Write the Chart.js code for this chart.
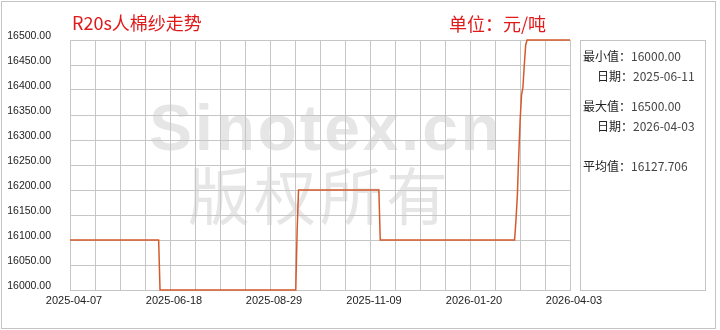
<!DOCTYPE html>
<html>
<head>
<meta charset="utf-8">
<script src="https://cdn.jsdelivr.net/npm/chart.js@4.4.1/dist/chart.umd.min.js"></script>
<style>
  html, body { margin: 0; padding: 0; background: #fff; }
  #wrap { width: 720px; height: 330px; }
</style>
</head>
<body>
<div id="wrap"><canvas id="price-chart" width="720" height="330"></canvas></div>
<script>
// days counted from 2025-04-07, price (yuan/ton) at each change point
const days = [0, 64, 65, 163, 164, 165, 223, 224, 321, 322, 323, 324, 325, 326, 327, 328, 329, 330, 361];
const prices = [16100, 16100, 16000, 16000, 16120, 16200, 16200, 16100, 16100, 16140, 16190, 16270, 16340, 16390, 16405, 16450, 16490, 16500, 16500];
const tickLabels = ["2025-04-07", "2025-06-18", "2025-08-29", "2025-11-09", "2026-01-20", "2026-04-03"];
const lastDay = 361;

const title = "R20s人棉纱走势";
const unit = "单位：元/吨";
const infoLines = [
  ["最小值：", "16000.00", 583, 56],
  ["日期：", "2025-06-11", 597, 76],
  ["最大值：", "16500.00", 583, 106],
  ["日期：", "2026-04-03", 597, 126],
  ["平均值：", "16127.706", 583, 166],
];

const CJK = '"Noto Sans CJK SC", "Liberation Sans", sans-serif';

const decor = {
  id: "decor",
  beforeDraw(chart) {
    const { ctx, chartArea: a } = chart;
    ctx.save();
    // watermark
    ctx.fillStyle = "#e6e6e6";
    ctx.textAlign = "center";
    ctx.textBaseline = "middle";
    ctx.font = 'bold 64px "Liberation Sans", sans-serif';
    ctx.letterSpacing = "3px";
    ctx.fillText("Sinotex.cn", (a.left + a.right) / 2 + 6, 132);
    ctx.font = "62px " + CJK;
    ctx.letterSpacing = "4px";
    ctx.fillText("版权所有", (a.left + a.right) / 2, 196);
    ctx.restore();
  },
  afterDraw(chart) {
    const { ctx } = chart;
    ctx.save();
    ctx.strokeStyle = "#c4c4c4";
    ctx.lineWidth = 1;
    ctx.strokeRect(1.5, 1.5, 714, 327);
    ctx.strokeRect(580.5, 40.5, 125, 250);

    ctx.fillStyle = "#e0191b";
    ctx.textBaseline = "middle";
    ctx.font = "18px " + CJK;
    ctx.fillText(title, 72, 23);
    ctx.fillText(unit, 449, 24);

    ctx.font = "12px " + CJK;
    infoLines.forEach(([label, val, x, y]) => {
      ctx.fillStyle = "#222";
      ctx.fillText(label, x, y);
      const w = ctx.measureText(label).width;
      ctx.fillStyle = "#444";
      ctx.fillText(val, x + w, y);
    });
    ctx.restore();
  },
};

new Chart(document.getElementById("price-chart"), {
  type: "line",
  data: {
    datasets: [
      {
        data: days.map((d, i) => ({ x: d, y: prices[i] })),
        borderColor: "#d55a2b",
        borderWidth: 1.5,
        pointRadius: 0,
        fill: false,
        tension: 0,
        clip: 4,
      },
    ],
  },
  options: {
    responsive: false,
    animation: false,
    devicePixelRatio: 1,
    layout: { padding: { left: 8, right: 150, top: 40, bottom: 0 } },
    plugins: { legend: { display: false }, tooltip: { enabled: false } },
    scales: {
      x: {
        type: "linear",
        min: 0,
        max: lastDay,
        afterBuildTicks(scale) {
          const t = [];
          for (let i = 0; i <= 20; i++) t.push({ value: (i * lastDay) / 20 });
          scale.ticks = t;
        },
        afterFit(scale) { scale.height = 40; },
        grid: { color: "#c6c6c6", drawTicks: false },
        border: { color: "#c6c6c6" },
        ticks: {
          autoSkip: false,
          maxRotation: 0,
          padding: 4,
          labelOffset: 4,
          color: "#222",
          font: { family: "Liberation Sans", size: 11 },
          callback: (v, i) => (i % 4 === 0 ? tickLabels[i / 4] : ""),
        },
      },
      y: {
        min: 16000,
        max: 16500,
        afterFit(scale) { scale.width = 62; },
        grid: { color: "#c6c6c6", drawTicks: false },
        border: { color: "#c6c6c6" },
        ticks: {
          stepSize: 50,
          padding: 19,
          labelOffset: -4,
          color: "#222",
          font: { family: "Liberation Sans", size: 10.5 },
          callback: (v) => v.toFixed(2),
        },
      },
    },
  },
  plugins: [decor],
});
</script>
</body>
</html>
